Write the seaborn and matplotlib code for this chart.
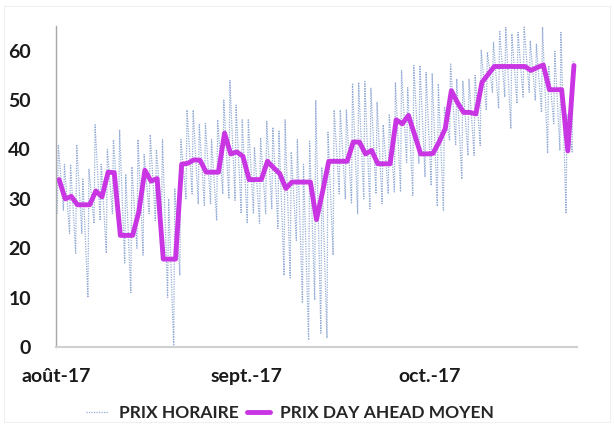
import matplotlib
matplotlib.use("Agg")
import matplotlib.pyplot as plt
import matplotlib.patches as patches
import numpy as np
import pandas as pd
import seaborn as sns

# daily day-ahead average price, one value per day from 1 Aug 2017
daily_price = [33.9, 30.0, 30.5, 28.8, 28.8, 28.8, 31.6, 30.4, 35.4, 35.3,
               22.6, 22.6, 22.6, 27.3, 35.8, 33.6, 34.1, 17.8, 17.8, 17.8,
               37.0, 37.2, 37.9, 37.8, 35.4, 35.4, 35.4, 43.3, 39.1, 39.5,
               38.6, 33.9, 33.9, 33.9, 37.6, 36.3, 35.1, 32.1, 33.4, 33.4,
               33.4, 33.4, 25.8, 31.5, 37.6, 37.6, 37.6, 37.6, 41.5, 41.5,
               39.1, 39.8, 37.1, 37.1, 37.1, 46.0, 45.2, 46.9, 43.0, 39.1,
               39.1, 39.2, 41.5, 44.2, 51.9, 49.5, 47.5, 47.5, 47.2, 53.6,
               55.2, 56.8, 56.8, 56.8, 56.8, 56.8, 56.8, 56.0, 56.6, 57.1,
               52.1, 52.1, 52.1, 39.7, 57.0]

# hourly price: lowest (night) and highest (morning) hour of each day
hourly_low = [27, 27.7, 23, 19, 23, 10, 25, 25.6, 19, 27,
              26, 17, 11, 20, 18.6, 27, 25.6, 27, 10, 0,
              14.5, 30, 31, 29, 28.7, 29, 25.6, 31, 30, 29.7,
              27, 25, 27, 25, 27, 28, 24, 14.5, 14, 21.6,
              8.9, 1.4, 9.5, 2.8, 1.8, 18.6, 31, 30, 29, 27,
              30, 28, 31, 29, 31, 31.4, 31.4, 37.4, 30.7, 37.1,
              34.4, 32.7, 28.5, 27.7, 41.8, 40.8, 34, 38.8, 38.8, 40.8,
              47.9, 51.6, 48.3, 50.6, 44.2, 49.3, 50.6, 51.6, 49.9, 47.5,
              39.2, 45.2, 39.8, 27, 39.5]
hourly_high = [41, 37, 37, 41, 34, 36, 45, 37, 40, 42,
               44, 35, 36.5, 42, 39, 43, 40, 42, 30, 32,
               42, 48, 48, 45, 45.3, 42, 46, 50, 54, 49,
               46, 46, 40.5, 42.4, 45.7, 44.5, 43.7, 46, 39.5, 42,
               37, 41.7, 50, 36.4, 43.5, 48, 48, 48, 53.4, 53.6,
               53.8, 52.4, 49.6, 45, 47, 53.6, 56, 52.5, 57, 57,
               55.6, 55.4, 53.3, 48.7, 57.3, 54.3, 53.9, 54.3, 55, 60.1,
               59.7, 61.7, 64.1, 64.7, 63.4, 63.7, 64.8, 62, 61.3, 64.8,
               57, 59.9, 63.7, 47, 58]

month_ticks = ["2017-08-01", "2017-09-01", "2017-10-01"]
month_labels = ["août-17", "sept.-17", "oct.-17"]

start = pd.Timestamp("2017-08-01")
days = [start + pd.Timedelta(days=k, hours=12) for k in range(len(daily_price))]
df_day = pd.DataFrame({"date": days, "prix": daily_price})

times, vals = [], []
for k in range(len(hourly_low)):
    times += [start + pd.Timedelta(days=k, hours=5), start + pd.Timedelta(days=k, hours=9)]
    vals += [hourly_low[k], hourly_high[k]]
df_hour = pd.DataFrame({"date": times, "prix": vals})

sns.set_theme(style="white")
plt.rcParams["font.family"] = ["Lato", "DejaVu Sans"]
plt.rcParams["font.weight"] = "bold"

fig = plt.figure(figsize=(6.14, 4.28), dpi=100)
ax = fig.add_axes([56 / 614, 1 - 347 / 428, (577 - 56) / 614, (347 - 26) / 428])

fig.patches.append(patches.Rectangle((4 / 614, 6 / 428), 606 / 614, 416 / 428,
                                     transform=fig.transFigure, fill=False,
                                     edgecolor="#f0f0f0", linewidth=0.8))

sns.lineplot(data=df_hour, x="date", y="prix", ax=ax, estimator=None, sort=False,
             color="#94acd6", linewidth=0.9, linestyle=(0, (1, 1)), label="PRIX HORAIRE")
sns.lineplot(data=df_day, x="date", y="prix", ax=ax, estimator=None,
             color="#c935e2", linewidth=3.5, label="PRIX DAY AHEAD MOYEN")

ax.set_xlim(start, pd.Timestamp("2017-10-25"))
ax.set_ylim(0, 65)
ax.set_yticks([0, 10, 20, 30, 40, 50, 60])
ax.set_xticks(pd.to_datetime(month_ticks))
ax.set_xticklabels(month_labels)
ax.set_xlabel("")
ax.set_ylabel("")

for s in ["top", "right"]:
    ax.spines[s].set_visible(False)
ax.spines["left"].set_color("#a8a8a8")
ax.spines["bottom"].set_color("#d0d0d0")
ax.spines["left"].set_linewidth(1.0)
ax.spines["bottom"].set_linewidth(1.5)
ax.tick_params(axis="both", which="both", direction="out", length=7, width=1,
               color="#b0b0b0", labelsize=14)
ax.tick_params(axis="y", pad=11)
ax.tick_params(axis="x", length=6, pad=9)
for lab in ax.get_xticklabels() + ax.get_yticklabels():
    lab.set_fontweight("bold")
    lab.set_color("#1a1a1a")

ax.get_legend().remove()
handles, labels = ax.get_legend_handles_labels()
fig.legend(handles, labels, loc="lower center", bbox_to_anchor=(0.472, -0.02), ncol=2,
           frameon=False, handlelength=1.3, columnspacing=0.5, handletextpad=0.6,
           prop={"weight": "bold", "size": 12.5})

fig.savefig("out.png", dpi=100)
